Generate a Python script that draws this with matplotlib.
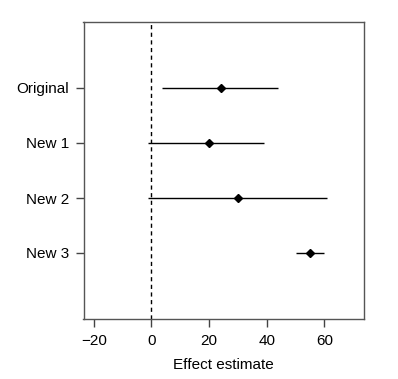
import matplotlib
matplotlib.use('Agg')
import matplotlib.pyplot as plt

plt.rcParams['font.family'] = ['Liberation Sans', 'DejaVu Sans']

labels = ['Original', 'New 1', 'New 2', 'New 3']
est = [24, 20, 30, 55]
lower = [3.8, -1.2, -1.2, 50]
upper = [44, 39, 61, 60]
ypos = [4, 3, 2, 1]

fig = plt.figure(figsize=(3.98, 3.79), dpi=100)
ax = fig.add_axes([83.5 / 398, 60 / 379, 280 / 398, 297 / 379])

ax.hlines(ypos, lower, upper, color='black', lw=1)
ax.plot(est, ypos, marker='D', ls='none', color='black', ms=4.5)
ax.axvline(0, color='black', lw=1, ls=(0, (3, 2.5)))

ax.set_xlim(-23.6, 73.6)
ax.set_ylim(-0.2, 5.2)
ax.set_xticks([-20, 0, 20, 40, 60])
ax.set_xticklabels(['\u221220', '0', '20', '40', '60'])
ax.set_yticks(ypos)
ax.set_yticklabels(labels)
ax.tick_params(axis='both', labelsize=11, length=5.5, width=1, color='#444444')
ax.tick_params(axis='x', pad=5.5)
ax.tick_params(axis='y', pad=5)
ax.set_xlabel('Effect estimate', fontsize=11, labelpad=7)
for s in ax.spines.values():
    s.set_color('#555555')
    s.set_linewidth(1)

fig.savefig('out.png', dpi=100)
